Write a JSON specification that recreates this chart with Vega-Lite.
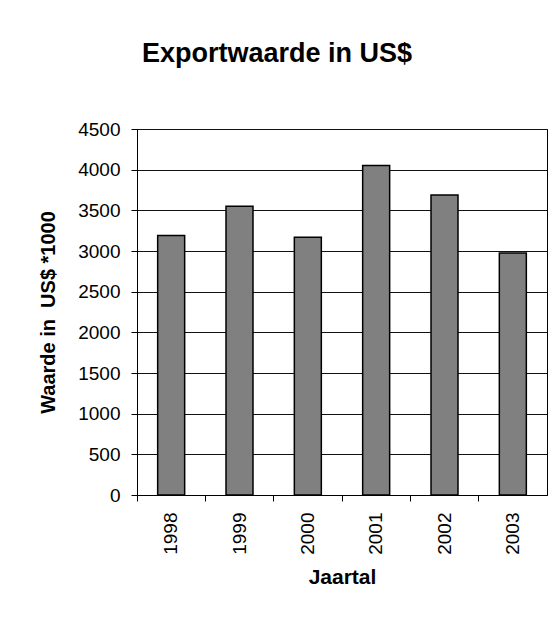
{
  "$schema": "https://vega.github.io/schema/vega-lite/v6.json",
  "width": 410,
  "height": 366,
  "autosize": "none",
  "padding": {"left": 137, "top": 129, "right": 4, "bottom": 122},
  "background": "white",
  "title": {
    "text": "Exportwaarde in US$",
    "font": "Liberation Sans",
    "fontSize": 27,
    "fontWeight": "bold",
    "color": "black",
    "anchor": "middle",
    "baseline": "alphabetic",
    "offset": 31,
    "dx": -65
  },
  "data": {
    "values": [
      {"jaar": "1998", "waarde": 3190},
      {"jaar": "1999", "waarde": 3550},
      {"jaar": "2000", "waarde": 3170},
      {"jaar": "2001", "waarde": 4050},
      {"jaar": "2002", "waarde": 3690},
      {"jaar": "2003", "waarde": 2975}
    ]
  },
  "mark": {
    "type": "bar",
    "fill": "#808080",
    "stroke": "black",
    "strokeWidth": 1.5,
    "width": {"band": 0.395}
  },
  "encoding": {
    "x": {
      "field": "jaar",
      "type": "nominal",
      "scale": {"paddingInner": 0, "paddingOuter": 0},
      "axis": {
        "title": "Jaartal",
        "titleFont": "Liberation Sans",
        "titleFontSize": 21,
        "titleFontWeight": "bold",
        "titleColor": "black",
        "titlePadding": 12,
        "labelFont": "Liberation Sans",
        "labelFontSize": 19,
        "labelColor": "black",
        "labelAngle": -90,
        "labelPadding": 11,
        "bandPosition": 0,
        "tickSize": 6,
        "tickColor": "black",
        "domainColor": "black",
        "grid": false
      }
    },
    "y": {
      "field": "waarde",
      "type": "quantitative",
      "scale": {"domain": [0, 4500], "nice": false},
      "axis": {
        "title": "Waarde in\u00a0\u00a0US$ *1000",
        "titleFont": "Liberation Sans",
        "titleFontSize": 20,
        "titleFontWeight": "bold",
        "titleColor": "black",
        "titlePadding": 19,
        "values": [0, 500, 1000, 1500, 2000, 2500, 3000, 3500, 4000, 4500],
        "format": "d",
        "labelFont": "Liberation Sans",
        "labelFontSize": 19,
        "labelColor": "black",
        "labelPadding": 11,
        "tickSize": 6,
        "tickColor": "black",
        "domainColor": "black",
        "grid": true,
        "gridColor": "#111111",
        "gridOpacity": 1
      }
    }
  },
  "config": {
    "view": {"stroke": "black", "strokeWidth": 1}
  }
}
